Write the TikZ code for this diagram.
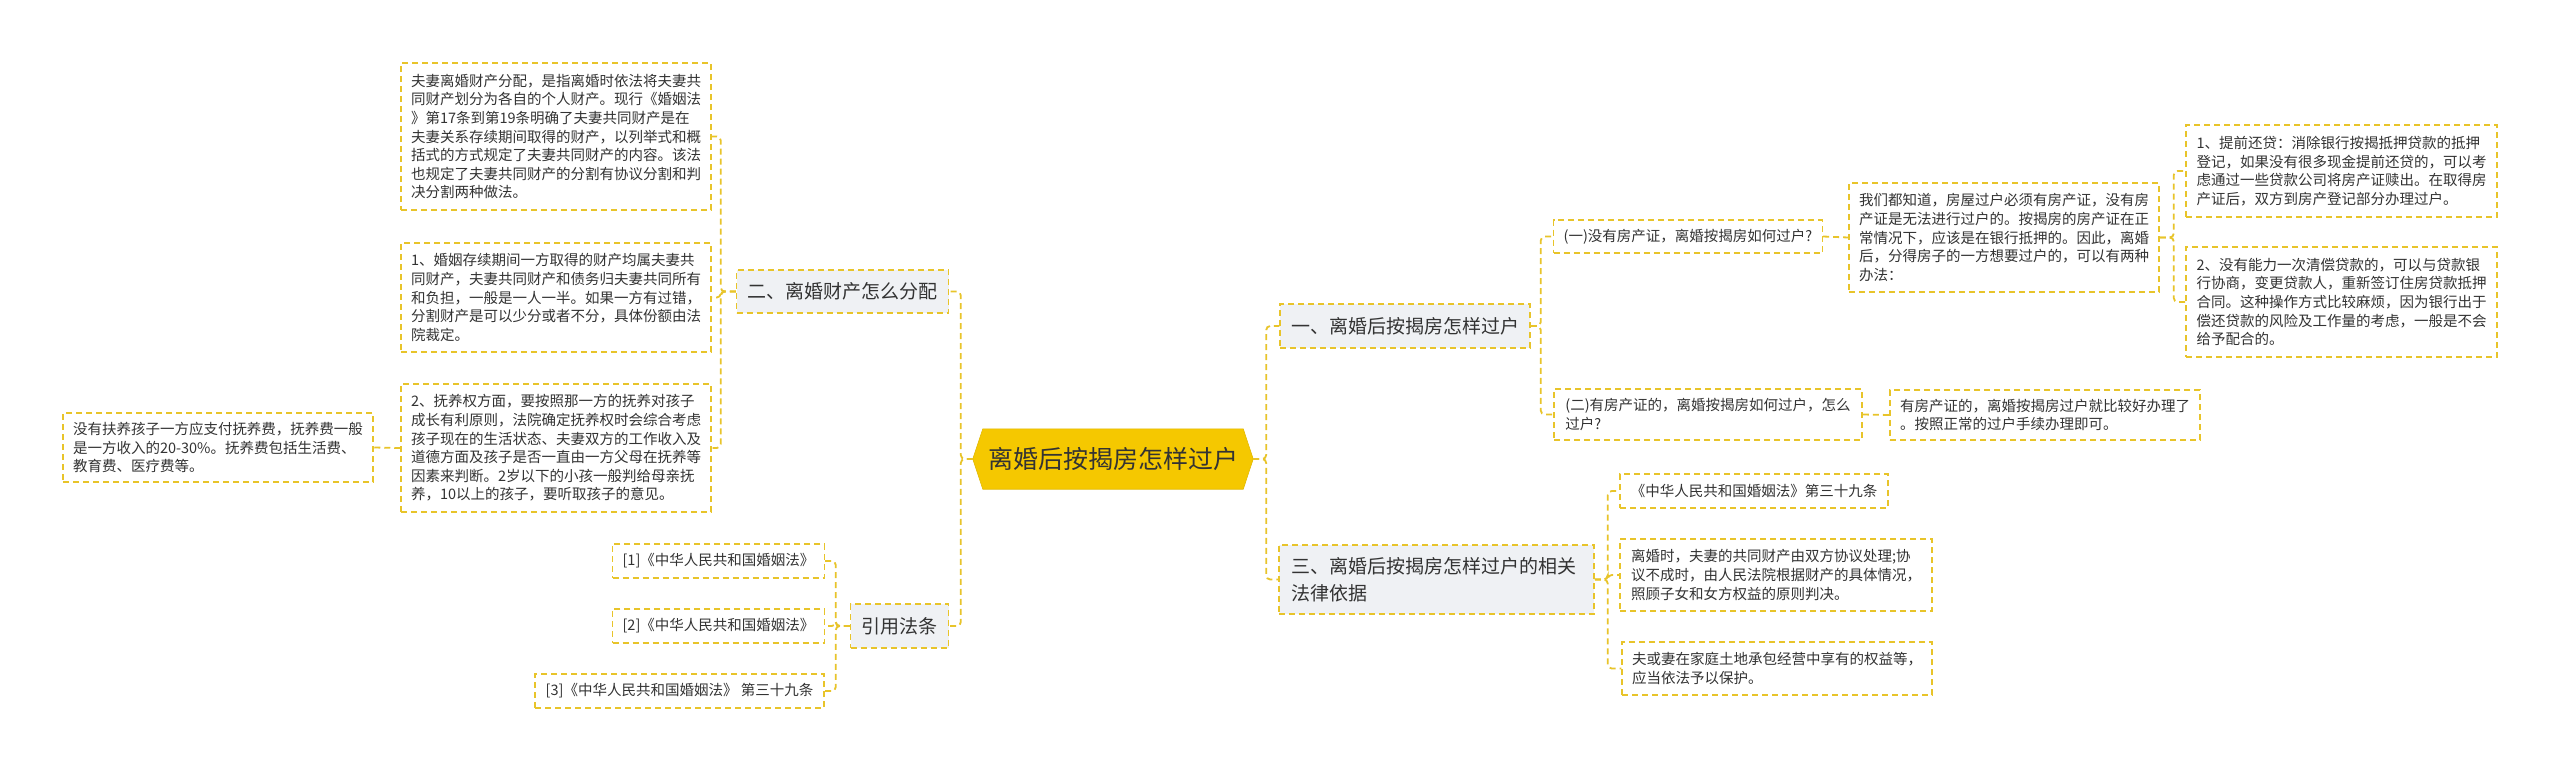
\documentclass[tikz,border=0pt]{standalone}
\usepackage{fontspec}
\setmainfont{Noto Sans CJK SC}
\usetikzlibrary{backgrounds}
\definecolor{linec}{HTML}{E8C42A}
\definecolor{rootc}{HTML}{F5C800}
\definecolor{topicc}{HTML}{EFF1F4}
\definecolor{textc}{HTML}{333333}
\begin{document}
\begin{tikzpicture}[x=1pt,y=-1pt,
  link/.style={draw=linec,line width=1.8pt,dash pattern=on 6pt off 4pt,rounded corners=4pt},
  root/.style={minimum width=280pt,minimum height=60pt,inner sep=0pt,
    font=\fontsize{25}{30}\selectfont,text=textc},
  topic/.style={draw=linec,fill=topicc,line width=1.5pt,dash pattern=on 6pt off 4pt,
    font=\fontsize{19}{27}\selectfont,text=textc,align=left,inner xsep=11pt},
  leaf/.style={draw=linec,fill=white,line width=1.5pt,dash pattern=on 6pt off 4pt,
    font=\fontsize{14.5}{18.6}\selectfont,text=textc,align=left,inner xsep=10pt}]
  \useasboundingbox (0,0) rectangle (2560,772);

  \node[root] (root) at (1113,459) {离婚后按揭房怎样过户};
  \begin{pgfonlayer}{background}
    \fill[white] (0,0) rectangle (2560,772);
    \filldraw[fill=rootc,draw=rootc!92!black,line width=0.6pt] (root.west) -- ([xshift=10pt]root.north west)
      -- ([xshift=-10pt]root.north east) -- (root.east) -- ([xshift=-10pt]root.south east)
      -- ([xshift=10pt]root.south west) -- cycle;
  \end{pgfonlayer}

  % left side
  \node[topic,minimum width=209pt,minimum height=43pt] (assets) at (842.5,291.5) {二、离婚财产怎么分配};
  \node[topic,minimum width=95pt,minimum height=44pt] (laws) at (899.5,626) {引用法条};

  \node[leaf,minimum width=310pt,minimum height=147pt] (define) at (556,136.5)
    {夫妻离婚财产分配，是指离婚时依法将夫妻共\\同财产划分为各自的个人财产。现行《婚姻法\\》第17条到第19条明确了夫妻共同财产是在\\夫妻关系存续期间取得的财产，以列举式和概\\括式的方式规定了夫妻共同财产的内容。该法\\也规定了夫妻共同财产的分割有协议分割和判\\决分割两种做法。};
  \node[leaf,minimum width=310pt,minimum height=109pt] (share) at (556,297.5)
    {1、婚姻存续期间一方取得的财产均属夫妻共\\同财产，夫妻共同财产和债务归夫妻共同所有\\和负担，一般是一人一半。如果一方有过错，\\分割财产是可以少分或者不分，具体份额由法\\院裁定。};
  \node[leaf,minimum width=310pt,minimum height=128pt] (custody) at (556,448)
    {2、抚养权方面，要按照那一方的抚养对孩子\\成长有利原则，法院确定抚养权时会综合考虑\\孩子现在的生活状态、夫妻双方的工作收入及\\道德方面及孩子是否一直由一方父母在抚养等\\因素来判断。2岁以下的小孩一般判给母亲抚\\养，10以上的孩子，要听取孩子的意见。};
  \node[leaf,minimum width=310pt,minimum height=69pt] (support) at (218,447.5)
    {没有扶养孩子一方应支付抚养费，抚养费一般\\是一方收入的20-30\%。抚养费包括生活费、\\教育费、医疗费等。};

  \node[leaf,minimum width=211pt,minimum height=34pt] (law1) at (718.5,561) {\relax[1]《中华人民共和国婚姻法》};
  \node[leaf,minimum width=211pt,minimum height=34pt] (law2) at (718.5,626) {\relax[2]《中华人民共和国婚姻法》};
  \node[leaf,minimum width=289pt,minimum height=34pt] (law3) at (679.5,691) {\relax[3]《中华人民共和国婚姻法》 第三十九条};

  % right side
  \node[topic,minimum width=250pt,minimum height=44pt] (howto) at (1405,326) {一、离婚后按揭房怎样过户};
  \node[topic,minimum width=315pt,minimum height=69pt,text width=291pt,inner xsep=12pt] (basis) at (1436.5,579.5)
    {三、离婚后按揭房怎样过户的相关\\法律依据};

  \node[leaf,minimum width=268pt,minimum height=33pt] (nocert) at (1688,236.5) {(一)没有房产证，离婚按揭房如何过户?};
  \node[leaf,minimum width=308pt,minimum height=51pt] (cert) at (1708,414.5) {(二)有房产证的，离婚按揭房如何过户，怎么\\过户?};
  \node[leaf,minimum width=310pt,minimum height=109pt] (known) at (2004,237.5)
    {我们都知道，房屋过户必须有房产证，没有房\\产证是无法进行过户的。按揭房的房产证在正\\常情况下，应该是在银行抵押的。因此，离婚\\后，分得房子的一方想要过户的，可以有两种\\办法：};
  \node[leaf,minimum width=311pt,minimum height=92pt] (repay) at (2341.5,171)
    {1、提前还贷：消除银行按揭抵押贷款的抵押\\登记，如果没有很多现金提前还贷的，可以考\\虑通过一些贷款公司将房产证赎出。在取得房\\产证后，双方到房产登记部分办理过户。};
  \node[leaf,minimum width=311pt,minimum height=110pt] (renego) at (2341.5,302)
    {2、没有能力一次清偿贷款的，可以与贷款银\\行协商，变更贷款人，重新签订住房贷款抵押\\合同。这种操作方式比较麻烦，因为银行出于\\偿还贷款的风险及工作量的考虑，一般是不会\\给予配合的。};
  \node[leaf,minimum width=310pt,minimum height=50pt] (easy) at (2045,415)
    {有房产证的，离婚按揭房过户就比较好办理了\\。按照正常的过户手续办理即可。};

  \node[leaf,minimum width=268pt,minimum height=34pt] (art39) at (1754,491) {《中华人民共和国婚姻法》第三十九条};
  \node[leaf,minimum width=312pt,minimum height=72pt] (divide) at (1776,575)
    {离婚时，夫妻的共同财产由双方协议处理;协\\议不成时，由人民法院根据财产的具体情况，\\照顾子女和女方权益的原则判决。};
  \node[leaf,minimum width=310pt,minimum height=53pt] (land) at (1777,668.5)
    {夫或妻在家庭土地承包经营中享有的权益等，\\应当依法予以保护。};

  % connectors
  \foreach \c in {assets,laws} \draw[link] (root.west) -- ++(-12,0) |- (\c.east);
  \foreach \c in {howto,basis} \draw[link] (root.east) -- ++(13,0) |- (\c.west);
  \foreach \c in {define,share,custody} \draw[link] (assets.west) -- ++(-15,0) |- (\c.east);
  \foreach \c in {law1,law2,law3} \draw[link] (laws.west) -- ++(-14,0) |- (\c.east);
  \draw[link] (custody.west) -- (support.east);
  \foreach \c in {nocert,cert} \draw[link] (howto.east) -- ++(10,0) |- (\c.west);
  \draw[link] (nocert.east) -- (known.west);
  \draw[link] (cert.east) -- (easy.west);
  \foreach \c in {repay,renego} \draw[link] (known.east) -- ++(14,0) |- (\c.west);
  \foreach \c in {art39,divide,land} \draw[link] (basis.east) -- ++(13,0) |- (\c.west);
\end{tikzpicture}
\end{document}
